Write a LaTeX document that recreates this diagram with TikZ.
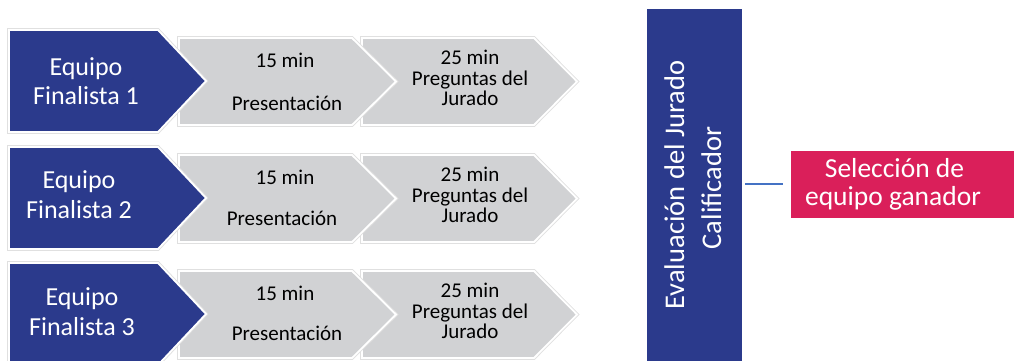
\documentclass[tikz,border=0pt]{standalone}
\usepackage{fontspec}
\setmainfont{Carlito}
\definecolor{navy}{RGB}{43,58,140}
\definecolor{chevgray}{RGB}{209,210,212}
\definecolor{crimson}{RGB}{218,31,90}
\definecolor{linkblue}{RGB}{68,114,196}
\begin{document}
\begin{tikzpicture}[x=1pt,y=-1pt,
  edge/.style={preaction={draw=black!12,line width=3.6pt},draw=white,line width=1.8pt,line join=miter},
  bluechev/.style={fill=navy,edge},
  graychev/.style={fill=chevgray,edge},
  bluetxt/.style={text=white,font=\fontsize{26}{30}\selectfont,anchor=base,inner sep=0pt},
  graytxt/.style={text=black,font=\fontsize{21}{21}\selectfont,anchor=base,inner sep=0pt},
]
\useasboundingbox (0,0) rectangle (1015,360);
\clip (0,0) rectangle (1015,360);
\foreach \dy/\n/\ex/\ba/\bb/\px/\py in {0/1/86/75/104/0/0, 117/2/79/71/101/-5/-2, 233/3/82/72/102/0/-3}{
  \begin{scope}[yshift=-\dy pt]
  \draw[graychev] (362,38) -- (534,38) -- (577,81.5) -- (534,125) -- (362,125) -- cycle;
  \draw[graychev] (179,38) -- (352,38) -- (396,81.5) -- (352,125) -- (179,125) -- cycle;
  \draw[bluechev] (9,30) -- (158,30) -- (206,81) -- (158,132) -- (9,132) -- cycle;
  \node[bluetxt] (eq\n) at (\ex,\ba) {Equipo};
  \node[bluetxt] (fin\n) at (\ex,\bb) {Finalista \n};
  \node[graytxt] (min\n) at (285,67) {15 min};
  \node[graytxt] (pres\n) at (287+\px,110+\py) {Presentación};
  \node[graytxt] (mm\n) at (470,64) {25 min};
  \node[graytxt] (preg\n) at (470,85) {Preguntas del};
  \node[graytxt] (jur\n) at (470,105) {Jurado};
  \end{scope}
}
\node[fill=navy,minimum width=95pt,minimum height=360pt,inner sep=0pt,anchor=north]
  (eval) at (694.5,9) {};
\node[rotate=90,anchor=base,text=white,inner sep=0pt,font=\fontsize{28.5}{30}\selectfont]
  (evt1) at (684,185) {Evaluación del Jurado};
\node[rotate=90,anchor=base,text=white,inner sep=0pt,font=\fontsize{28.5}{30}\selectfont]
  (evt2) at (721,188) {Calificador};
\node[fill=crimson,minimum width=223pt,minimum height=67pt,inner sep=0pt]
  (sel) at (902.5,184.5) {};
\node[text=white,anchor=base,inner sep=0pt,font=\fontsize{27.5}{30}\selectfont]
  (selt1) at (894.5,177) {Selección de};
\node[text=white,anchor=base,inner sep=0pt,font=\fontsize{27.5}{30}\selectfont]
  (selt2) at (893,205) {equipo ganador};
\coordinate (lk) at (eval.east |- 0,184);
\draw[linkblue,line width=2pt,shorten <=3pt,shorten >=8pt] (lk) -- (sel.west |- lk);
\end{tikzpicture}
\end{document}
